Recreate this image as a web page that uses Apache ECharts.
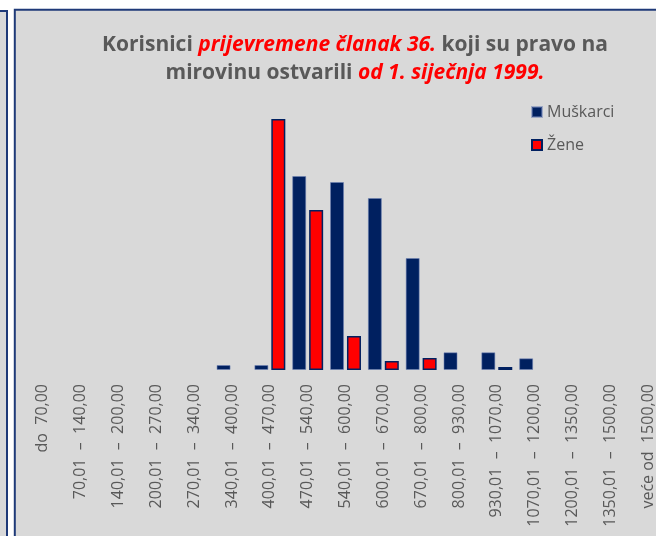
<!DOCTYPE html>
<html>
<head>
<meta charset="utf-8">
<script src="https://cdn.jsdelivr.net/npm/echarts@6/dist/echarts.min.js"></script>
<style>
  html, body { margin: 0; padding: 0; background: #fff; }
  #chart { width: 656px; height: 536px; }
</style>
</head>
<body>
<div id="chart"></div>
<script>
// Pension brackets (HRK)
const categories = [
  'do  70,00',
  '70,01  –  140,00',
  '140,01  –  200,00',
  '200,01  –  270,00',
  '270,01  –  340,00',
  '340,01  –  400,00',
  '400,01  –  470,00',
  '470,01  –  540,00',
  '540,01  –  600,00',
  '600,01  –  670,00',
  '670,01  –  800,00',
  '800,01  –  930,00',
  '930,01  –  1070,00',
  '1070,01  –  1200,00',
  '1200,01  –  1350,00',
  '1350,01  –  1500,00',
  'veće od  1500,00'
];

// Number of beneficiaries per bracket
const muskarci = [0, 0, 0, 0, 0, 50, 50, 1940, 1880, 1720, 1120, 177, 177, 117, 0, 0, 0];
const zene     = [0, 0, 0, 0, 0, 0, 2510, 1600, 340, 90, 120, 0, 30, 0, 0, 0, 0];

// empty brackets get no bar at all (avoids a stray outline on the baseline)
const noEmpty = arr => arr.map(v => (v === 0 ? null : v));

const NAVY = '#002060';
const FRAME = '#1f3a78';
const PANEL = '#d9d9d9';
const TEXT = '#595959';

const chart = echarts.init(document.getElementById('chart'), null, { renderer: 'canvas' });

chart.setOption({
  backgroundColor: '#ffffff',
  animation: false,
  graphic: [
    {
      type: 'rect',
      silent: true,
      z: -10,
      shape: { x: -3, y: 11, width: 10, height: 560 },
      style: { fill: PANEL, stroke: FRAME, lineWidth: 2 }
    },
    {
      type: 'rect',
      silent: true,
      z: -10,
      shape: { x: 14.8, y: 9.8, width: 680, height: 560 },
      style: { fill: PANEL, stroke: FRAME, lineWidth: 2 }
    }
  ],
  title: {
    text: '{a|Korisnici }{b|prijevremene članak 36.}{a| koji su pravo na}\n{a|mirovinu ostvarili }{b|od 1. siječnja 1999.}',
    left: 350,
    top: 26,
    textAlign: 'center',
    textStyle: {
      fontFamily: 'Open Sans',
      fontSize: 21,
      lineHeight: 28,
      rich: {
        a: { fontFamily: 'Open Sans', fontSize: 21, fontWeight: 'bold', color: TEXT, lineHeight: 28 },
        b: { fontFamily: 'Open Sans', fontSize: 21, fontWeight: 'bold', fontStyle: 'italic', color: '#ff0000', lineHeight: 28 }
      }
    }
  },
  legend: {
    orient: 'vertical',
    left: 531,
    top: 104,
    padding: 0,
    itemWidth: 10,
    itemHeight: 10,
    itemGap: 17,
    icon: 'rect',
    textStyle: { fontFamily: 'Open Sans', fontSize: 16, color: TEXT },
    data: ['Muškarci', 'Žene']
  },
  grid: {
    left: 24,
    right: -11,
    top: 95,
    bottom: 166,
    outerBoundsMode: 'none',
    containLabel: false
  },
  xAxis: {
    type: 'category',
    data: categories,
    axisLine: { show: false },
    axisTick: { show: false },
    axisLabel: {
      interval: 0,
      rotate: 90,
      margin: 14,
      fontFamily: 'Open Sans',
      fontSize: 16,
      color: TEXT
    }
  },
  yAxis: {
    type: 'value',
    min: 0,
    max: 2750,
    show: false,
    splitLine: { show: false }
  },
  series: [
    {
      name: 'Muškarci',
      type: 'bar',
      data: noEmpty(muskarci),
      barWidth: 14,
      barGap: '21%',
      itemStyle: { color: NAVY, borderColor: 'rgba(110,130,180,0.55)', borderWidth: 1 }
    },
    {
      name: 'Žene',
      type: 'bar',
      data: noEmpty(zene),
      barWidth: 14,
      itemStyle: { color: '#ff0000', borderColor: NAVY, borderWidth: 1.5 }
    }
  ]
});
</script>
</body>
</html>
